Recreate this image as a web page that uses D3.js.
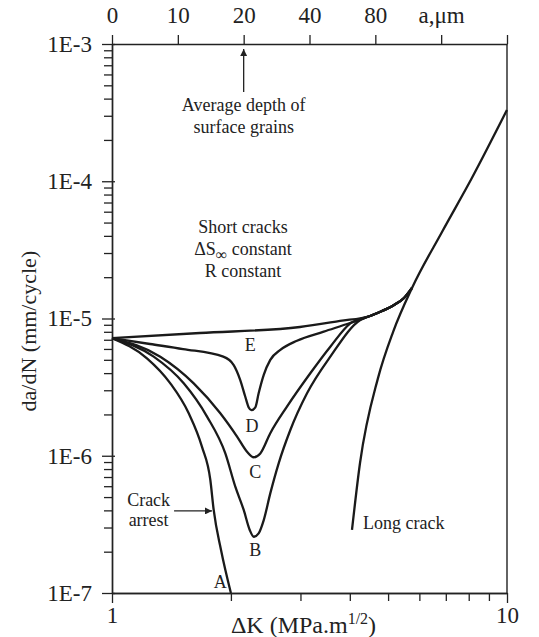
<!DOCTYPE html>
<html>
<head>
<meta charset="utf-8">
<script src="https://cdn.jsdelivr.net/npm/d3@7"></script>
<style>
  body { margin: 0; background: #fff; }
  svg { display: block; }
  text { font-family: "Liberation Serif", "Times New Roman", serif; fill: #222; }
</style>
</head>
<body>
<div id="chart"></div>
<script>
// tick labels
const yMajor = [1e-7, 1e-6, 1e-5, 1e-4, 1e-3];
const yTickLabels = ['1E-7', '1E-6', '1E-5', '1E-4', '1E-3'];
const xMajor = [1, 10];
const xTickLabels = ['1', '10'];
const topTickLabels = ['0', '10', '20', '40', '80', 'a,\u03bcm', ''];

// curves, [dK, da/dN]
const curveA = [[1, 7.2e-6], [1.226, 5.13e-6], [1.405, 3.37e-6], [1.564, 2.04e-6], [1.69, 1.16e-6],
  [1.774, 6.66e-7], [1.809, 4.03e-7], [1.888, 2.06e-7], [2.0, 1e-7]];
const curveB = [[1, 7.2e-6], [1.275, 5.27e-6], [1.519, 3.37e-6], [1.74, 1.93e-6], [1.936, 1.04e-6],
  [2.052, 5.95e-7], [2.155, 4.03e-7], [2.232, 2.88e-7], [2.285, 2.57e-7], [2.351, 2.72e-7],
  [2.422, 3.4e-7], [2.516, 5.32e-7], [2.642, 8.81e-7], [2.828, 1.54e-6], [3.117, 2.85e-6],
  [3.57, 5.27e-6], [4.253, 9.75e-6]];
const curveC = [[1, 7.2e-6], [1.325, 5.27e-6], [1.61, 3.37e-6], [1.88, 2.04e-6], [2.073, 1.38e-6],
  [2.197, 1.07e-6], [2.285, 9.75e-7], [2.374, 1.04e-6], [2.516, 1.46e-6], [2.773, 2.28e-6],
  [3.177, 3.99e-6], [3.57, 6.23e-6], [4.012, 9.22e-6]];
const curveD = [[1, 7.2e-6], [1.248, 6.52e-6], [1.513, 5.99e-6], [1.913, 5.27e-6], [2.033, 4.58e-6],
  [2.112, 3.56e-6], [2.175, 2.69e-6], [2.219, 2.25e-6], [2.253, 2.15e-6], [2.306, 2.25e-6],
  [2.351, 2.85e-6], [2.422, 3.88e-6], [2.516, 4.99e-6], [2.668, 5.9e-6], [2.94, 6.89e-6],
  [3.436, 8.02e-6], [4.005, 9.27e-6]];
const curveE = [[1, 7.2e-6], [1.67, 7.84e-6], [2.991, 8.67e-6], [3.777, 9.6e-6]];
// common part where the short crack curves meet the long crack
const mergedTail = [[4.5, 1.043e-5], [4.827, 1.134e-5], [5.176, 1.254e-5], [5.486, 1.41e-5], [5.748, 1.67e-5]];
const longCrack = [[4.051, 2.88e-7], [4.245, 8.85e-7], [4.714, 3.68e-6], [5.146, 7.97e-6],
  [5.748, 1.67e-5], [6.846, 4.27e-5], [8.155, 1.06e-4], [10, 3.31e-4]];

const curveLabels = [
  { t: 'A', k: 1.88, v: 1.21e-7 },
  { t: 'B', k: 2.306, v: 2.06e-7 },
  { t: 'C', k: 2.306, v: 7.66e-7 },
  { t: 'D', k: 2.262, v: 1.65e-6 },
  { t: 'E', k: 2.239, v: 6.41e-6 },
];

const width = 539;
const height = 637;
const margin = { top: 44, right: 32, bottom: 44, left: 112 };

const x = d3.scaleLog().domain([1, 10]).range([margin.left, width - margin.right]);
const y = d3.scaleLog().domain([1e-7, 1e-3]).range([height - margin.bottom, margin.top]);
const xTop = d3.scalePoint().domain(topTickLabels).range([margin.left, width - margin.right]);

const svg = d3.select('#chart').append('svg')
  .attr('width', width)
  .attr('height', height);

const defs = svg.append('defs');
defs.append('marker')
  .attr('id', 'head')
  .attr('viewBox', '0 0 10 10')
  .attr('refX', 10)
  .attr('refY', 5)
  .attr('markerWidth', 10)
  .attr('markerHeight', 7)
  .attr('markerUnits', 'userSpaceOnUse')
  .attr('orient', 'auto')
  .append('path')
  .attr('d', 'M0,0L10,5L0,10Z')
  .attr('fill', '#222');

const isPow10 = d => Math.abs(Math.log10(d) - Math.round(Math.log10(d))) < 1e-9;
const fontAxis = 23;

function styleAxis(g) {
  g.attr('font-family', null).attr('font-size', null);
  g.selectAll('.domain').attr('stroke', '#222').attr('stroke-width', 1.4);
  g.selectAll('.tick line').attr('stroke', '#222').attr('stroke-width', 1.3);
  g.selectAll('.tick text').style('font-size', `${fontAxis}px`).attr('fill', '#222');
}

// left axis
svg.append('g')
  .attr('transform', `translate(${margin.left},0)`)
  .call(d3.axisLeft(y).tickValues(y.ticks().filter(d => !isPow10(d))).tickSize(8).tickSizeOuter(0).tickFormat(''))
  .call(styleAxis);
svg.append('g')
  .attr('transform', `translate(${margin.left},0)`)
  .call(d3.axisLeft(y).tickValues(yMajor).tickSize(10).tickSizeOuter(0).tickPadding(10)
    .tickFormat((d, i) => yTickLabels[i]))
  .call(styleAxis)
  .call(g => g.selectAll('.tick line').attr('x1', 3));

// bottom axis
svg.append('g')
  .attr('transform', `translate(0,${height - margin.bottom})`)
  .call(d3.axisBottom(x).tickValues(x.ticks().filter(d => !isPow10(d))).tickSize(8).tickSizeOuter(0).tickFormat(''))
  .call(styleAxis);
svg.append('g')
  .attr('transform', `translate(0,${height - margin.bottom})`)
  .call(d3.axisBottom(x).tickValues(xMajor).tickSize(10).tickSizeOuter(0).tickPadding(4)
    .tickFormat((d, i) => xTickLabels[i]))
  .call(styleAxis);

// top axis (crack length)
svg.append('g')
  .attr('transform', `translate(0,${margin.top})`)
  .call(d3.axisTop(xTop).tickSize(9).tickSizeOuter(0).tickPadding(12))
  .call(styleAxis);

// right border
svg.append('line')
  .attr('x1', x(10)).attr('x2', x(10))
  .attr('y1', y(1e-3)).attr('y2', y(1e-7))
  .attr('stroke', '#222').attr('stroke-width', 1.4);

// axis titles
svg.append('text')
  .attr('transform', `translate(28,${(y(1e-5) + y(1e-6)) / 2 - 56}) rotate(-90)`)
  .attr('text-anchor', 'middle')
  .attr('dominant-baseline', 'central')
  .style('font-size', '22px')
  .text('da/dN (mm/cycle)');

const xTitle = svg.append('text')
  .attr('x', (x(1) + x(10)) / 2 - 6)
  .attr('y', height - 4)
  .attr('text-anchor', 'middle')
  .style('font-size', '24px');
xTitle.append('tspan').text('\u0394K (MPa.m');
xTitle.append('tspan').attr('dy', -9).style('font-size', '16px').text('1/2');
xTitle.append('tspan').attr('dy', 9).text(')');

// curves
const line = d3.line()
  .x(d => x(d[0]))
  .y(d => y(d[1]))
  .curve(d3.curveMonotoneX);

const series = [
  curveA,
  curveB.concat(mergedTail),
  curveC.concat(mergedTail),
  curveD.concat(mergedTail),
  curveE.concat(mergedTail),
  longCrack,
];

svg.append('g')
  .selectAll('path')
  .data(series)
  .join('path')
  .attr('d', line)
  .attr('fill', 'none')
  .attr('stroke', '#1a1a1a')
  .attr('stroke-width', 2.3)
  .attr('stroke-linejoin', 'round');

svg.append('g')
  .selectAll('text')
  .data(curveLabels)
  .join('text')
  .attr('x', d => x(d.k))
  .attr('y', d => y(d.v))
  .attr('text-anchor', 'middle')
  .attr('dominant-baseline', 'central')
  .style('font-size', '18px')
  .text(d => d.t);

svg.append('text')
  .attr('x', x(4.32))
  .attr('y', y(3.24e-7))
  .attr('dominant-baseline', 'central')
  .style('font-size', '18px')
  .text('Long crack');

// crack arrest note
svg.append('g')
  .selectAll('text')
  .data([['Crack', 4.76e-7], ['arrest', 3.4e-7]])
  .join('text')
  .attr('x', x(1.238))
  .attr('y', d => y(d[1]))
  .attr('text-anchor', 'middle')
  .attr('dominant-baseline', 'central')
  .style('font-size', '18px')
  .text(d => d[0]);
svg.append('line')
  .attr('x1', x(1.436)).attr('x2', x(1.791))
  .attr('y1', y(3.96e-7)).attr('y2', y(3.96e-7))
  .attr('stroke', '#222').attr('stroke-width', 1.3)
  .attr('marker-end', 'url(#head)');

// surface grains note
svg.append('line')
  .attr('x1', xTop('20')).attr('x2', xTop('20'))
  .attr('y1', y(4.47e-4)).attr('y2', y(9.2e-4))
  .attr('stroke', '#222').attr('stroke-width', 1.3)
  .attr('marker-end', 'url(#head)');
svg.append('g')
  .selectAll('text')
  .data([['Average depth of', 3.6e-4], ['surface grains', 2.48e-4]])
  .join('text')
  .attr('x', xTop('20'))
  .attr('y', d => y(d[1]))
  .attr('text-anchor', 'middle')
  .attr('dominant-baseline', 'central')
  .style('font-size', '18px')
  .text(d => d[0]);

// short crack note
const noteK = 2.146;
svg.append('text')
  .attr('x', x(noteK)).attr('y', y(4.65e-5))
  .attr('text-anchor', 'middle').attr('dominant-baseline', 'central')
  .style('font-size', '18px')
  .text('Short cracks');
const ds = svg.append('text')
  .attr('x', x(noteK)).attr('y', y(3.21e-5))
  .attr('text-anchor', 'middle').attr('dominant-baseline', 'central')
  .style('font-size', '18px');
ds.append('tspan').text('\u0394S');
ds.append('tspan').attr('dy', 5).style('font-size', '16px').text('\u221e');
ds.append('tspan').attr('dy', -5).text(' constant');
svg.append('text')
  .attr('x', x(noteK)).attr('y', y(2.22e-5))
  .attr('text-anchor', 'middle').attr('dominant-baseline', 'central')
  .style('font-size', '18px')
  .text('R constant');
</script>
</body>
</html>
